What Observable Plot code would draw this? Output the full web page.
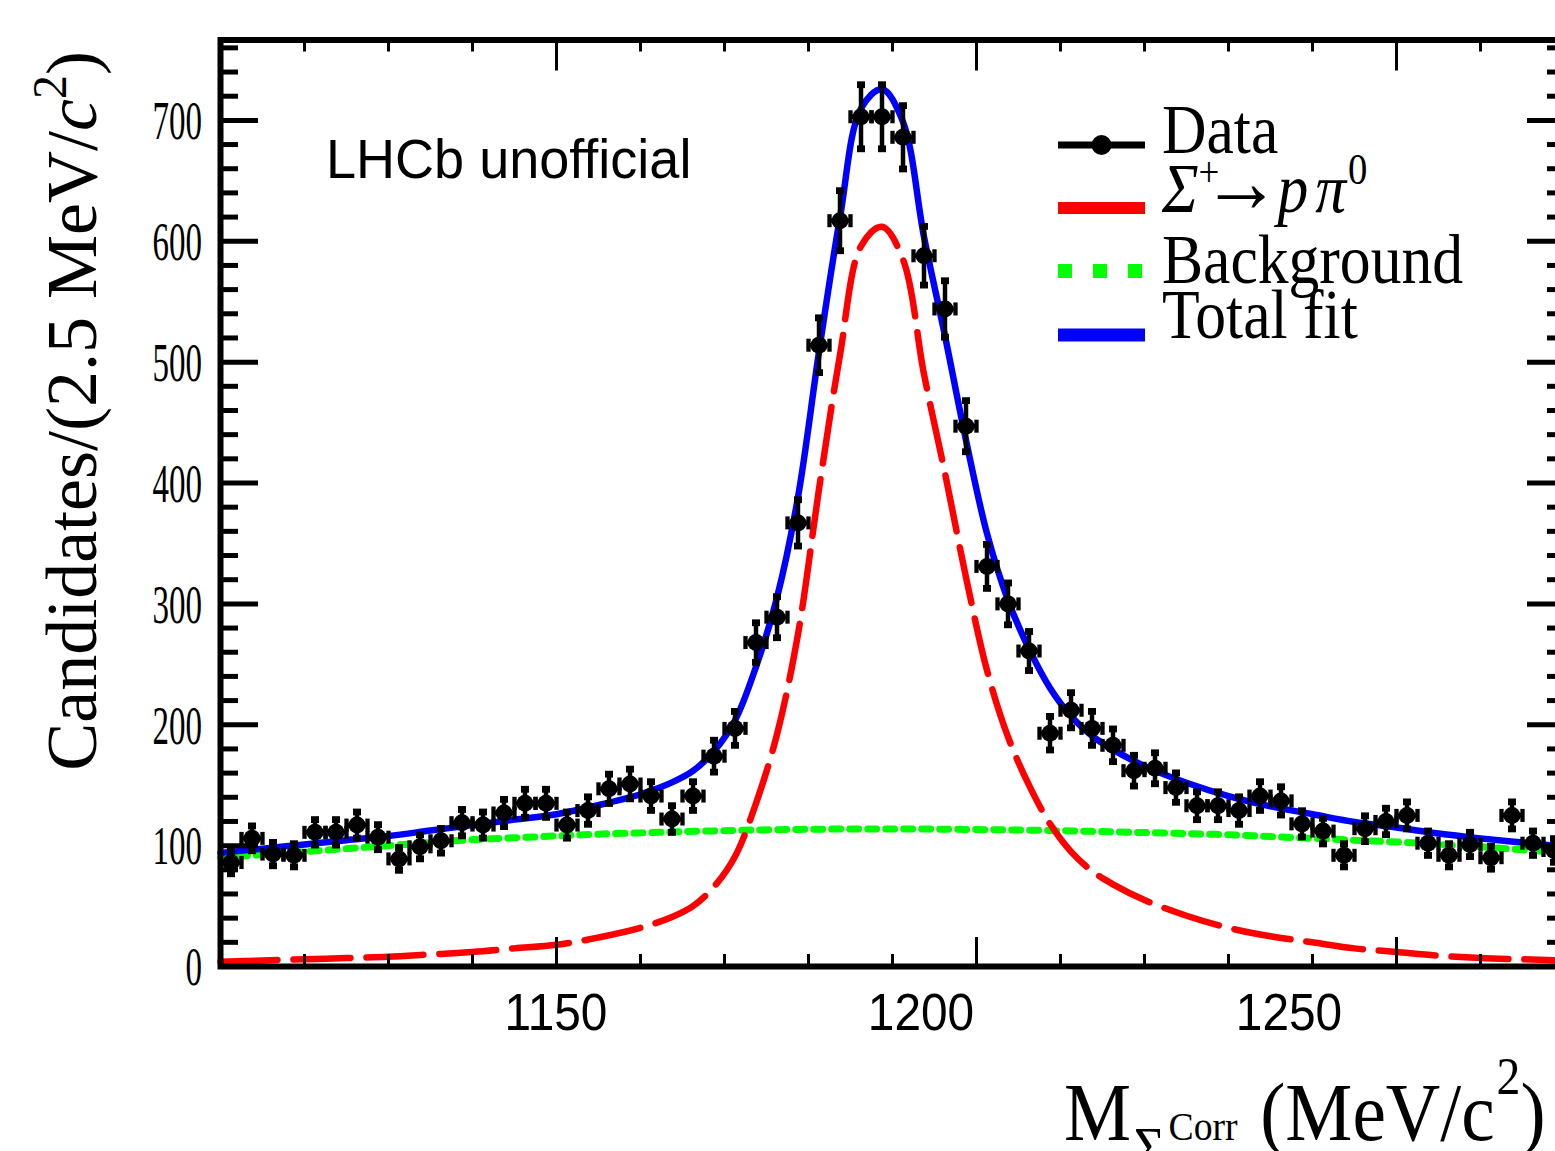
<!DOCTYPE html>
<html><head><meta charset="utf-8">
<script src="https://cdn.jsdelivr.net/npm/d3@7"></script>
<script src="https://cdn.jsdelivr.net/npm/@observablehq/plot@0.6"></script>
<style>
html,body{margin:0;padding:0;background:#fff;overflow:hidden}
#wrap{width:1555px;height:1151px;overflow:hidden;position:relative;background:#fff}
</style></head><body><div id="wrap"></div>
<script>
// ---------- data ----------
const binCenters = [1111.25,1113.75,1116.25,1118.75,1121.25,1123.75,1126.25,1128.75,1131.25,1133.75,
  1136.25,1138.75,1141.25,1143.75,1146.25,1148.75,1151.25,1153.75,1156.25,1158.75,
  1161.25,1163.75,1166.25,1168.75,1171.25,1173.75,1176.25,1178.75,1181.25,1183.75,
  1186.25,1188.75,1191.25,1193.75,1196.25,1198.75,1201.25,1203.75,1206.25,1208.75,
  1211.25,1213.75,1216.25,1218.75,1221.25,1223.75,1226.25,1228.75,1231.25,1233.75,
  1236.25,1238.75,1241.25,1243.75,1246.25,1248.75,1251.25,1253.75,1256.25,1258.75,
  1261.25,1263.75,1266.25,1268.75];
const counts = [86,106,93,92,111,111,117,107,89,99,
  104,119,117,127,135,135,117,129,147,151,
  141,122,141,174,197,268,289,367,514,617,
  703,703,686,588,544,447,331,300,261,193,
  212,197,183,162,164,148,133,133,129,141,
  137,118,112,92,114,120,125,102,92,101,
  90,125,102,96];
const binHalfWidth = 1.25;

const fitX = [1110,1115,1120,1125,1130,1135,1140,1145,1150,1155,1160,
  1163.75,1166.25,1168.75,1171.25,1173.75,1176.25,1178.75,1181.25,1183.75,1186.25,1188.75,
  1191.25,1193.75,1196.25,1198.75,1201.25,1203.75,1206.25,1208.75,1211.25,1213.75,1216.25,
  1220,1225,1230,1235,1240,1245,1250,1255,1260,1265,1270];
const signalFit = [4,5,6,7,8,10,12,15,18,24,32,
  41,50,66,91,135,192,275,395,506,596,612,
  585,490,408,322,245,190,150,118,95,79,68,
  55,42,32,25,20,15,12,9,7,6,5];
const backgroundFit = [90,92.5,95,97.5,100,102.5,105,106.5,108,109.5,110.5,
  111.3,111.8,112.2,112.6,112.9,113.2,113.4,113.6,113.7,113.8,113.8,
  113.8,113.7,113.6,113.4,113.2,113,112.8,112.5,112.2,111.8,111.4,
  110.8,110,109,107.5,106,104.5,103,101,99,96.5,94];
const totalFit = [94,97.5,101,104.5,108,112.5,117,121.5,126,133.5,142.5,
  152.3,161.8,178.2,203.6,247.9,305.2,388.4,508.6,619.7,709.8,725.8,
  698.8,603.7,521.6,435.4,358.2,303,262.8,230.5,207.2,190.8,179.4,
  165.8,152,141,132.5,126,119.5,115,110,106,102.5,99];

const xDomain = [1110, 1270];
const yDomain = [0, 766.5];
const xMinorTicks = [1110,1120,1130,1140,1160,1170,1180,1190,1210,1220,1230,1240,1260,1270];
const xMajorTicks = [1150,1200,1250];
const yMinorTicks = [20,40,60,80,120,140,160,180,220,240,260,280,320,340,360,380,420,440,460,480,520,540,560,580,620,640,660,680,720,740,760];
const yMajorTicks = [0,100,200,300,400,500,600,700];
const xTickLabels = ["1150","1200","1250"];
const xTickLabelAt = [1150, 1193.45, 1237.26];

const legendLabels = ["Data","Background","Total fit"];

// ---------- build ----------
const W = 1564, H = 1151;
const mL = 220, mR = 0, mT = 39.5, mB = 185;
const innerW = W - mL - mR, innerH = H - mT - mB;

const pts = binCenters.map((x, i) => ({x, n: counts[i], e: Math.sqrt(counts[i])}));
const fit = fitX.map((x, i) => ({x, s: signalFit[i], b: backgroundFit[i], t: totalFit[i]}));

const capOnV = {draw(ctx, size){ const r = Math.sqrt(size/Math.PI); ctx.rect(-r, -0.85*r, 2*r, 1.7*r); }};
const capOnH = {draw(ctx, size){ const r = Math.sqrt(size/Math.PI); ctx.rect(-r/3, -r, 2*r/3, 2*r); }};

const plot = Plot.plot({
  width: W, height: H,
  marginLeft: mL, marginRight: mR, marginTop: mT, marginBottom: mB,
  x: {domain: xDomain, axis: null},
  y: {domain: yDomain, axis: null},
  style: "max-width:none;background:white;",
  marks: [
    Plot.line(fit, {x: "x", y: "b", stroke: "#00ff00", strokeWidth: 7, strokeDasharray: "9,9", curve: "catmull-rom"}),
    Plot.line(fit, {x: "x", y: "s", stroke: "#ff0000", strokeWidth: 6.5, strokeDasharray: "57,16", curve: "catmull-rom"}),
    Plot.line(fit, {x: "x", y: "t", stroke: "#0000ff", strokeWidth: 6.5, curve: "catmull-rom"}),
    Plot.ruleX(pts, {x: "x", y1: d => d.n - d.e, y2: d => d.n + d.e, stroke: "black", strokeWidth: 4.5}),
    Plot.ruleY(pts, {y: "n", x1: d => d.x - binHalfWidth, x2: d => d.x + binHalfWidth, stroke: "black", strokeWidth: 4.5}),
    Plot.dot(pts, {x: "x", y: d => d.n - d.e, symbol: capOnV, r: 4, fill: "black", stroke: null}),
    Plot.dot(pts, {x: "x", y: d => d.n + d.e, symbol: capOnV, r: 4, fill: "black", stroke: null}),
    Plot.dot(pts, {x: d => d.x - binHalfWidth, y: "n", symbol: capOnH, r: 6.5, fill: "black", stroke: null}),
    Plot.dot(pts, {x: d => d.x + binHalfWidth, y: "n", symbol: capOnH, r: 6.5, fill: "black", stroke: null}),
    Plot.dot(pts, {x: "x", y: "n", r: 8.5, fill: "black", stroke: null}),
    // frame ticks
    Plot.ruleY(yMinorTicks, {y: d => d, insetRight: innerW - 18, stroke: "black", strokeWidth: 5}),
    Plot.ruleY(yMajorTicks, {y: d => d, insetRight: innerW - 38, stroke: "black", strokeWidth: 5}),
    Plot.ruleY(yMinorTicks, {y: d => d, insetLeft: innerW - 17, stroke: "black", strokeWidth: 5}),
    Plot.ruleY(yMajorTicks, {y: d => d, insetLeft: innerW - 37, stroke: "black", strokeWidth: 5}),
    Plot.ruleX(xMinorTicks, {x: d => d, insetTop: innerH - 12, stroke: "black", strokeWidth: 3}),
    Plot.ruleX(xMajorTicks, {x: d => d, insetTop: innerH - 29, stroke: "black", strokeWidth: 3}),
    Plot.ruleX(xMinorTicks, {x: d => d, insetBottom: innerH - 12, stroke: "black", strokeWidth: 3}),
    Plot.ruleX(xMajorTicks, {x: d => d, insetBottom: innerH - 31, stroke: "black", strokeWidth: 3}),
    Plot.frame({stroke: "black", strokeWidth: 6})
  ]
});
plot.style.maxWidth = "none";
document.getElementById("wrap").appendChild(plot);

const svg = d3.select(plot);
const xs = plot.scale("x"), ys = plot.scale("y");
const SERIF = "'Liberation Serif','Times New Roman',Times,serif";
const SANS = "'Liberation Sans',Arial,Helvetica,sans-serif";
const g = svg.append("g");

// y tick labels (condensed serif)
yMajorTicks.forEach(v => {
  g.append("text")
    .attr("transform", `translate(${mL - 18},${ys.apply(v)}) scale(0.6,1)`)
    .attr("text-anchor", "end").attr("dy", "0.35em")
    .style("font-family", SERIF).style("font-size", "55px").attr("fill", "black")
    .text(String(v));
});
// x tick labels
xTickLabels.forEach((t, i) => {
  g.append("text")
    .attr("transform", `translate(${xs.apply(xTickLabelAt[i])},${H - mB + 64}) scale(0.92,1)`)
    .attr("text-anchor", "middle")
    .style("font-family", SANS).style("font-size", "52px").attr("fill", "black")
    .text(t);
});

// y title
const yt = g.append("text")
  .attr("transform", "translate(96,51) rotate(-90)")
  .attr("text-anchor", "end")
  .style("font-family", SERIF).style("font-size", "72px").attr("fill", "black");
yt.append("tspan").text("Candidates/(2.5 MeV/");
yt.append("tspan").style("font-style", "italic").text("c");
yt.append("tspan").attr("dy", -30).style("font-size", "48px").text("2");
yt.append("tspan").attr("dy", 30).text(")");

// x title
const xt = g.append("text")
  .attr("transform", "translate(1064,1140) scale(0.92,1)")
  .attr("text-anchor", "start")
  .style("font-family", SERIF).style("font-size", "82px").attr("fill", "black");
xt.append("tspan").text("M");
xt.append("tspan").attr("dy", 27).attr("dx", 3).style("font-size", "58px").text("Σ");
xt.append("tspan").attr("dy", -27).attr("dx", 4).style("font-size", "41px").text("Corr");
xt.append("tspan").attr("dx", 4).text(" (MeV/c");
xt.append("tspan").attr("dx", 2).attr("dy", -46).style("font-size", "52px").text("2");
xt.append("tspan").attr("dy", 46).text(")");

// LHCb label
g.append("text").attr("transform", "translate(326,178) scale(0.965,1)")
  .attr("text-anchor", "start")
  .style("font-family", SANS).style("font-size", "56px").attr("fill", "black")
  .text("LHCb unofficial");

// legend
const lg = svg.append("g");
const lx1 = 1058, lx2 = 1145, tx = 1162;
lg.append("line").attr("x1", lx1).attr("x2", lx2).attr("y1", 145).attr("y2", 145).attr("stroke", "black").attr("stroke-width", 7);
lg.append("circle").attr("cx", (lx1 + lx2) / 2).attr("cy", 145).attr("r", 10).attr("fill", "black");
lg.append("line").attr("x1", lx1).attr("x2", lx2).attr("y1", 208).attr("y2", 208).attr("stroke", "#ff0000").attr("stroke-width", 12);
lg.append("line").attr("x1", lx1).attr("x2", lx2 - 1).attr("y1", 271).attr("y2", 271).attr("stroke", "#00ff00").attr("stroke-width", 14).attr("stroke-dasharray", "14,21");
lg.append("line").attr("x1", lx1).attr("x2", lx2).attr("y1", 335).attr("y2", 335).attr("stroke", "#0000ff").attr("stroke-width", 13);
function legText(y) {
  return lg.append("text").attr("transform", `translate(${tx},${y}) scale(0.88,1)`)
    .attr("text-anchor", "start")
    .style("font-family", SERIF).style("font-size", "70px").attr("fill", "black");
}
legText(153).text(legendLabels[0]);
const sig = legText(212);
sig.append("tspan").style("font-style", "italic").text("Σ");
sig.append("tspan").attr("dy", -26).style("font-size", "42px").text("+");
sig.append("tspan").attr("dy", 26).attr("dx", -20).style("font-size", "90px").text("→");
sig.append("tspan").attr("dx", -4).style("font-style", "italic").text("p");
sig.append("tspan").attr("dx", 8).style("font-style", "italic").text("π");
sig.append("tspan").attr("dx", 2).attr("dy", -28).style("font-size", "44px").text("0");
legText(283).text(legendLabels[1]);
legText(338).text(legendLabels[2]);
</script></body></html>
